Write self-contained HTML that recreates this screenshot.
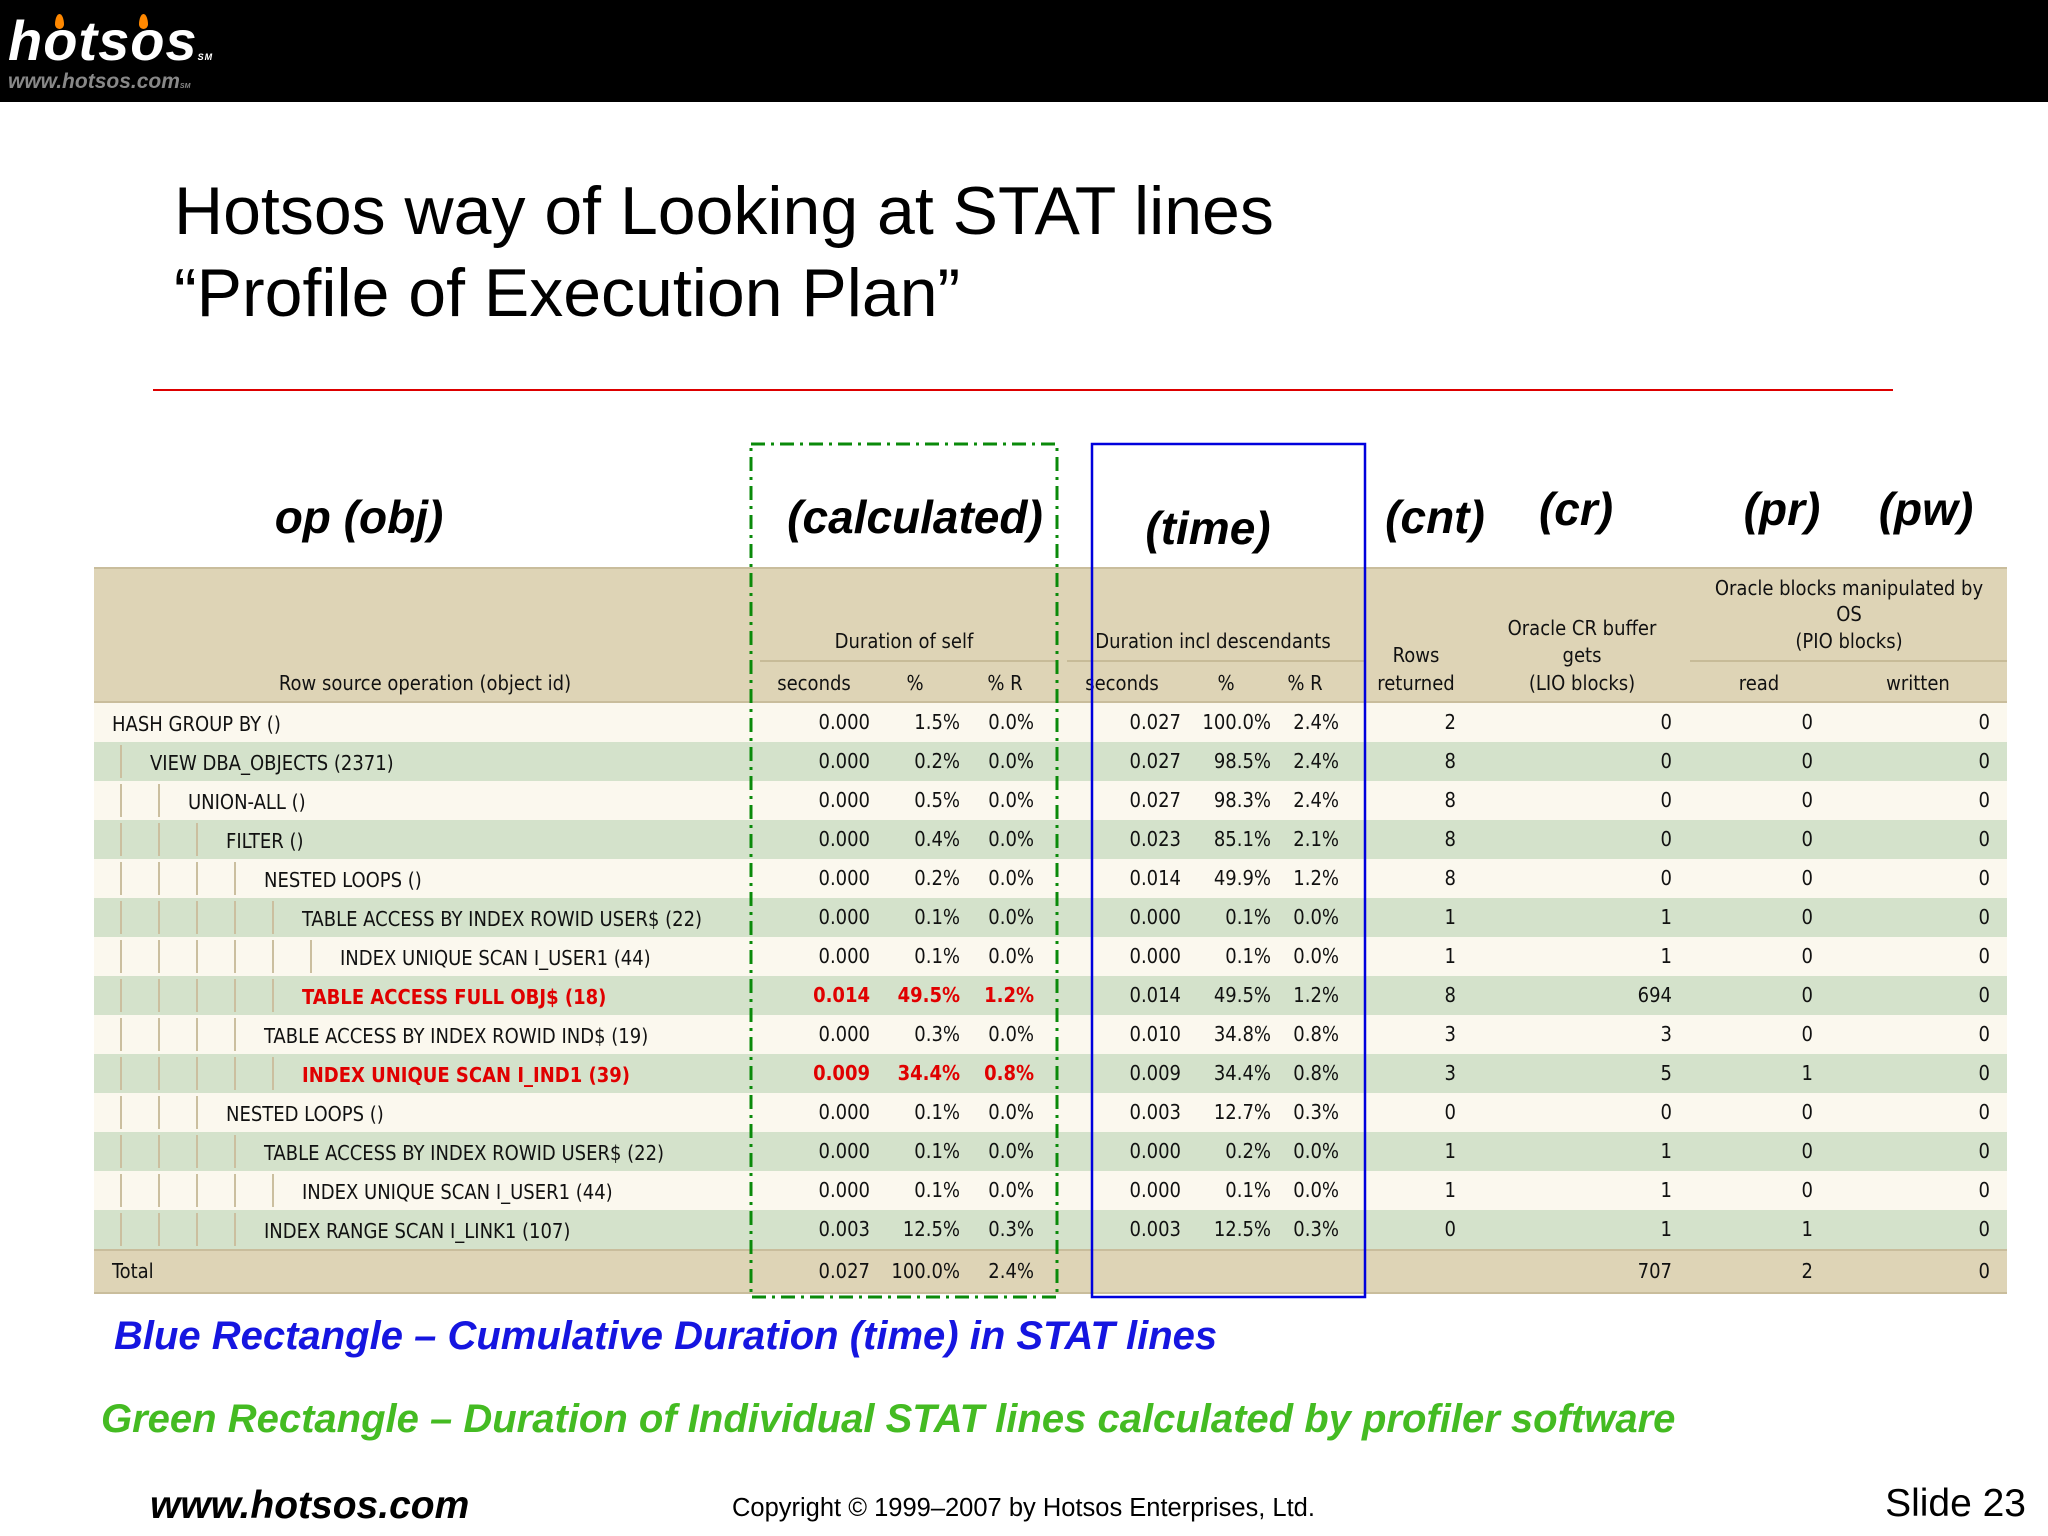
<!DOCTYPE html>
<html><head><meta charset="utf-8">
<style>
body{margin:0;width:2048px;height:1536px;position:relative;background:#fff;overflow:hidden;font-family:"Liberation Sans",sans-serif}
.a{position:absolute;white-space:nowrap}
.c{font-family:"DejaVu Sans Condensed","DejaVu Sans","Liberation Sans",sans-serif;font-size:20px;color:#111}
.lab{font-weight:bold;font-style:italic;font-size:46px;color:#000;transform:translateX(-50%)}
</style></head><body>
<div class="a" style="left:0;top:0;width:2048px;height:102px;background:#000"></div>
<div class="a" style="left:8px;top:8px;color:#fff;font-weight:bold;font-style:italic;font-size:56px;letter-spacing:1px">hotsos<span style="font-size:9px">SM</span></div>
<div class="a" style="left:8px;top:70px;color:#888;font-weight:bold;font-style:italic;font-size:21px">www.hotsos.com<span style="font-size:7px">SM</span></div>
<div class="a" style="left:55px;top:14px;width:9px;height:15px;background:#f80;border-radius:50% 50% 50% 50%/70% 70% 30% 30%"></div>
<div class="a" style="left:139px;top:14px;width:9px;height:15px;background:#f80;border-radius:50% 50% 50% 50%/70% 70% 30% 30%"></div>

<div class="a" style="left:174px;top:170px;font-size:68px;line-height:82px;color:#000">Hotsos way of Looking at STAT lines<br>“Profile of Execution Plan”</div>
<div class="a" style="left:153px;top:389px;width:1740px;height:2px;background:#d00"></div>

<div class="a lab" style="left:359px;top:490px">op (obj)</div>
<div class="a lab" style="left:915px;top:490px">(calculated)</div>
<div class="a lab" style="left:1208px;top:501px">(time)</div>
<div class="a lab" style="left:1435px;top:490px">(cnt)</div>
<div class="a lab" style="left:1576px;top:482px">(cr)</div>
<div class="a lab" style="left:1782px;top:482px">(pr)</div>
<div class="a lab" style="left:1926px;top:482px">(pw)</div>

<div id="tbl" class="a" style="left:0;top:0;width:2048px;height:1536px"></div>

<svg class="a" style="left:0;top:0" width="2048" height="1536">
<rect x="751" y="444" width="306" height="853" fill="none" stroke="#0a8a0a" stroke-width="3" stroke-dasharray="14 6 3 6"/>
<rect x="1092" y="444" width="273" height="853" fill="none" stroke="#0000dd" stroke-width="2.5"/>
</svg>

<div class="a" style="left:114px;top:1314px;font-size:40px;font-weight:bold;font-style:italic;color:#1515e0">Blue Rectangle – Cumulative Duration (time) in STAT lines</div>
<div class="a" style="left:101px;top:1397px;font-size:40px;font-weight:bold;font-style:italic;color:#44bb22">Green Rectangle – Duration of Individual STAT lines calculated by profiler software</div>
<div class="a" style="left:150px;top:1484px;font-size:39px;font-weight:bold;font-style:italic;color:#000">www.hotsos.com</div>
<div class="a" style="left:732px;top:1494px;font-size:25.5px;color:#000">Copyright © 1999–2007 by Hotsos Enterprises, Ltd.</div>
<div class="a" style="right:22px;top:1482px;font-size:39px;color:#000">Slide 23</div>

<script>
const ops=["HASH GROUP BY ()","VIEW DBA_OBJECTS (2371)","UNION-ALL ()","FILTER ()","NESTED LOOPS ()","TABLE ACCESS BY INDEX ROWID USER$ (22)","INDEX UNIQUE SCAN I_USER1 (44)","TABLE ACCESS FULL OBJ$ (18)","TABLE ACCESS BY INDEX ROWID IND$ (19)","INDEX UNIQUE SCAN I_IND1 (39)","NESTED LOOPS ()","TABLE ACCESS BY INDEX ROWID USER$ (22)","INDEX UNIQUE SCAN I_USER1 (44)","INDEX RANGE SCAN I_LINK1 (107)"];
const depths=[0,1,2,3,4,5,6,5,4,5,3,4,5,4];
const hot=[0,0,0,0,0,0,0,1,0,1,0,0,0,0];
const selfSec=["0.000","0.000","0.000","0.000","0.000","0.000","0.000","0.014","0.000","0.009","0.000","0.000","0.000","0.003"];
const selfPct=["1.5%","0.2%","0.5%","0.4%","0.2%","0.1%","0.1%","49.5%","0.3%","34.4%","0.1%","0.1%","0.1%","12.5%"];
const selfR=["0.0%","0.0%","0.0%","0.0%","0.0%","0.0%","0.0%","1.2%","0.0%","0.8%","0.0%","0.0%","0.0%","0.3%"];
const inclSec=["0.027","0.027","0.027","0.023","0.014","0.000","0.000","0.014","0.010","0.009","0.003","0.000","0.000","0.003"];
const inclPct=["100.0%","98.5%","98.3%","85.1%","49.9%","0.1%","0.1%","49.5%","34.8%","34.4%","12.7%","0.2%","0.1%","12.5%"];
const inclR=["2.4%","2.4%","2.4%","2.1%","1.2%","0.0%","0.0%","1.2%","0.8%","0.8%","0.3%","0.0%","0.0%","0.3%"];
const rowsRet=["2","8","8","8","8","1","1","8","3","3","0","1","1","0"];
const crGets=["0","0","0","0","0","1","1","694","3","5","0","1","1","1"];
const pioRead=["0","0","0","0","0","0","0","0","0","1","0","0","0","1"];
const pioWritten=["0","0","0","0","0","0","0","0","0","0","0","0","0","0"];
const totals=["0.027","100.0%","2.4%","","","","","707","2","0"];

const T=document.getElementById('tbl');
const L=94,R=2007,TOP=567,HB=703,RH=39;
function box(x,y,w,h,bg){const d=document.createElement('div');d.className='a';d.style.cssText=`left:${x}px;top:${y}px;width:${w}px;height:${h}px;background:${bg}`;T.appendChild(d);return d;}
function txt(s,x,y,align,extra){const d=document.createElement('div');d.className='a c';d.textContent=s;
 if(align==='r'){d.style.right=(2048-x)+'px';}else if(align==='c'){d.style.left=x+'px';d.style.transform='translateX(-50%)';}else d.style.left=x+'px';
 d.style.top=y+'px';if(extra)d.style.cssText+=extra;T.appendChild(d);return d;}

const hdr=box(L,TOP,R-L,HB-TOP,'#ded4b6');


box(L,TOP,R-L,2,'#c9bd9c');box(L,HB-2,R-L,3,'#c9bd9c');
box(760,660,297,2,'#c7bb98');box(1067,660,298,2,'#c7bb98');box(1690,660,317,2,'#c7bb98');
const H=[["Row source operation (object id)",425,671],["Duration of self",904,629],["seconds",814,671],["%",915,671],["% R",1005,671],["Duration incl descendants",1213,629],["seconds",1122,671],["%",1226,671],["% R",1305,671],["Rows",1416,643],["returned",1416,671],["Oracle CR buffer",1582,616],["gets",1582,643],["(LIO blocks)",1582,671],["Oracle blocks manipulated by",1849,576],["OS",1849,602],["(PIO blocks)",1849,629],["read",1759,671],["written",1918,671]];
H.forEach(h=>{const e=txt(h[0],h[1],h[2],'c');

});

const colX=[870,960,1034,1181,1271,1339,1456,1672,1813,1990];
ops.forEach((op,i)=>{
 const y=HB+i*RH;
 const r=box(L,y,R-L,RH,i%2?'#d4e2cb':'#fbf8ee');
 
 
 for(let k=0;k<depths[i];k++){box(120+38*k,y+3,2,RH-6,'#cbbf9f');}
 const hs=hot[i]?'font-weight:bold;color:#e00000;':'';
 const t=txt(op,112+38*depths[i],y+9,'l',hs);
 
 
 const vals=[selfSec[i],selfPct[i],selfR[i],inclSec[i],inclPct[i],inclR[i],rowsRet[i],crGets[i],pioRead[i],pioWritten[i]];
 vals.forEach((v,j)=>{const e=txt(v,colX[j],y+7,'r',j<3?hs:'');
 
 });
});
const ty=HB+ops.length*RH;
const tr=box(L,ty,R-L,43,'#ded4b6');


box(L,ty,R-L,2,'#c9bd9c');box(L,ty+43,R-L,2,'#c9bd9c');
const tl=txt("Total",112,ty+10,'l');


totals.forEach((v,j)=>{if(v){const e=txt(v,colX[j],ty+10,'r');

}});
</script>
</body></html>
